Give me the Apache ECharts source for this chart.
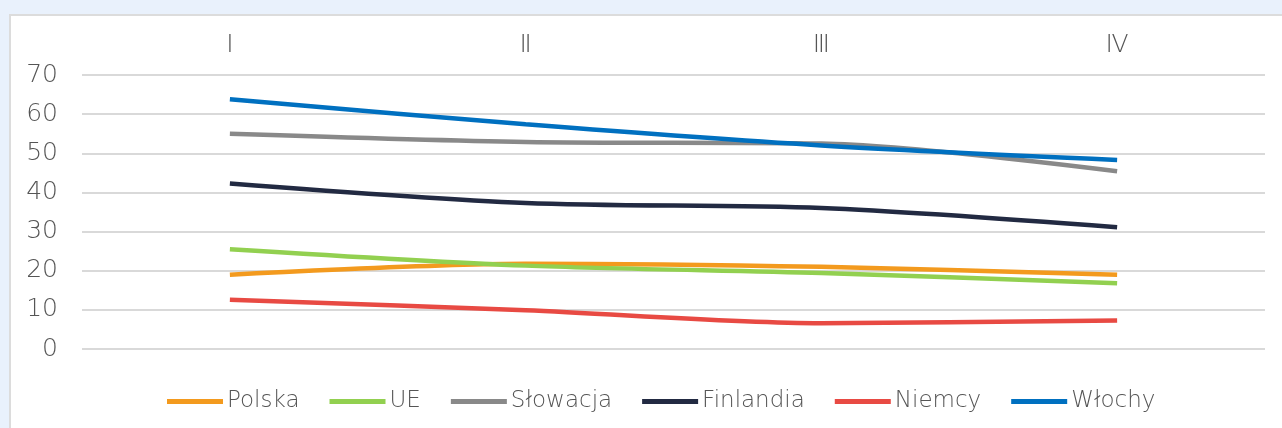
<!DOCTYPE html>
<html><head><meta charset="utf-8">
<script src="https://cdn.jsdelivr.net/npm/echarts@6/dist/echarts.min.js"></script>
<style>
html,body{margin:0;padding:0;background:#e9f1fc;width:1282px;height:428px;overflow:hidden}
#panel{position:absolute;left:9px;top:14px;width:1300px;height:430px;background:#fff;border:2px solid #dcdcdc;box-sizing:border-box}
#chart{position:absolute;left:0;top:0;width:1282px;height:428px}
</style></head><body>
<div id="panel"></div>
<div id="chart"></div>
<script>
const categories = ['Ⅰ','Ⅱ','Ⅲ','Ⅳ'];
const polska    = [19.0, 21.8, 21.0, 19.0];
const ue        = [25.5, 21.3, 19.4, 16.8];
const slowacja  = [55.0, 52.9, 52.5, 45.4];
const finlandia = [42.3, 37.3, 36.0, 31.1];
const niemcy    = [12.6, 9.9, 6.6, 7.3];
const wlochy    = [63.8, 57.4, 52.0, 48.3];
const seriesNames = ['Polska','UE','Słowacja','Finlandia','Niemcy','Włochy'];
const seriesData = [polska, ue, slowacja, finlandia, niemcy, wlochy];
const colors = ['#f39a1e','#92d050','#898989','#222a42','#e84a43','#0070c0'];

const chart = echarts.init(document.getElementById('chart'), null, {renderer:'canvas'});
const font = "'DejaVu Sans', 'Liberation Sans', sans-serif";
chart.setOption({
  animation:false,
  backgroundColor:'transparent',
  color: colors,
  grid:{left:82, right:17, top:75, bottom:79, containLabel:false},
  xAxis:{type:'category', data:categories, position:'top', boundaryGap:true,
    axisLine:{show:false}, axisTick:{show:false}, splitLine:{show:false},
    axisLabel:{color:'#555', fontFamily:font, fontWeight:200, fontSize:25, margin:17}},
  yAxis:{type:'value', min:0, max:70, interval:10,
    axisLine:{show:false}, axisTick:{show:false},
    splitLine:{lineStyle:{color:'#d9d9d9', width:2}},
    axisLabel:{color:'#555', fontFamily:font, fontWeight:200, fontSize:25, margin:24}},
  legend:{bottom:10, left:162, itemWidth:56, itemHeight:5, itemGap:30, icon:'rect',
    textStyle:{color:'#555', fontFamily:font, fontWeight:200, fontSize:23, padding:[0,0,0,-1]},
    data:seriesNames},
  series: seriesNames.map((n,i)=>({name:n, type:'line', data:seriesData[i], smooth:0.3,
    showSymbol:false, symbol:'none', lineStyle:{width:4.5, color:colors[i]}, itemStyle:{color:colors[i]}}))
});
</script>
</body></html>
